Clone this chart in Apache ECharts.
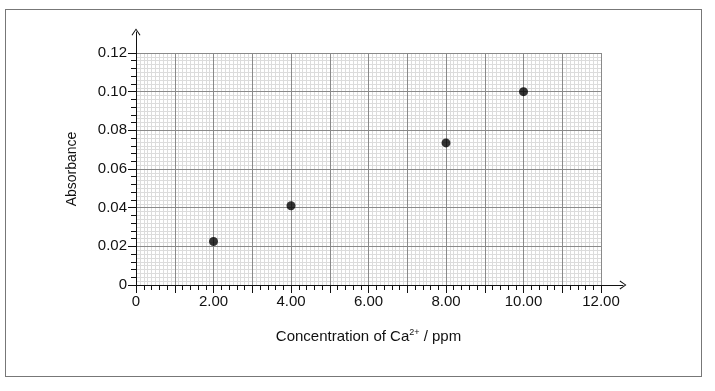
<!DOCTYPE html>
<html>
<head>
<meta charset="utf-8">
<script src="https://cdn.jsdelivr.net/npm/echarts@6/dist/echarts.min.js"></script>
<style>
html,body{margin:0;padding:0;background:#fff;}
#frame{position:absolute;left:5px;top:9px;width:697px;height:368px;border:1px solid #777;box-sizing:border-box;}
#chart{position:absolute;left:0;top:0;width:715px;height:391px;}
</style>
</head>
<body>
<div id="frame"></div>
<div id="chart"></div>
<script>
// Data
const concentrations = [2, 4, 8, 10];
const absorbances = [0.0225, 0.041, 0.0735, 0.100];
const xTickValues = [0, 2, 4, 6, 8, 10, 12];
const yTickValues = [0, 0.02, 0.04, 0.06, 0.08, 0.10, 0.12];
const xAxisTitle = 'Concentration of Ca';
const yAxisTitle = 'Absorbance';

const FONT = '"Liberation Sans", Arial, sans-serif';
const chart = echarts.init(document.getElementById('chart'), null, {renderer: 'canvas'});
const arrowPath = 'path://M0,7 L5,0 L10,7 L9,7.6 L5,1.6 L1,7.6 Z';

const G = {left: 136, right: 114, top: 53, bottom: 106};

function xLabel(v) {
  if (Math.abs(v) < 1e-9) return '0';
  const r = Math.round(v);
  return xTickValues.indexOf(r) >= 0 && Math.abs(v - r) < 1e-9 ? r.toFixed(2) : '';
}
function yLabel(v) {
  if (Math.abs(v) < 1e-12) return '0';
  return v.toFixed(2);
}

const option = {
  animation: false,
  backgroundColor: 'transparent',
  grid: [
    {left: G.left, right: G.right, top: G.top, bottom: G.bottom, containLabel: false},
    {left: G.left, right: 715 - 623, top: 32, bottom: G.bottom, containLabel: false}
  ],
  xAxis: [
    { // light minor grid
      type: 'value', gridIndex: 0, min: 0, max: 12, interval: 0.1, z: 0,
      axisLine: {show: false}, axisTick: {show: false}, axisLabel: {show: false},
      splitLine: {show: true, lineStyle: {color: '#dcdcdc', width: 1}}
    },
    { // main axis
      type: 'value', gridIndex: 0, min: 0, max: 12, interval: 1, z: 1,
      position: 'bottom',
      axisLine: {show: false, onZero: false},
      axisTick: {show: true, length: 8, lineStyle: {color: '#111', width: 1}},
      minorTick: {show: true, splitNumber: 5, length: 5, lineStyle: {color: '#111', width: 1}},
      axisLabel: {show: true, formatter: xLabel, color: '#111', fontFamily: FONT, fontSize: 15, margin: 9},
      splitLine: {show: true, lineStyle: {color: '#8a8a8a', width: 1}},
      name: '{t|' + xAxisTitle + '}{s|2+}{t| / ppm}',
      nameLocation: 'middle', nameGap: 43,
      nameTextStyle: {
        rich: {
          t: {fontFamily: FONT, fontSize: 15, color: '#111'},
          s: {fontFamily: FONT, fontSize: 9, color: '#111', verticalAlign: 'top', padding: [0, 0, 8, 0]}
        }
      }
    },
    { // axis line with arrow
      type: 'value', gridIndex: 1, min: 0, max: 1, z: 2,
      position: 'bottom',
      axisLine: {show: true, onZero: false, symbol: ['none', arrowPath], symbolSize: [9, 7], lineStyle: {color: '#111', width: 1}},
      axisTick: {show: false}, axisLabel: {show: false}, splitLine: {show: false}
    }
  ],
  yAxis: [
    {
      type: 'value', gridIndex: 0, min: 0, max: 0.12, interval: 0.002, z: 0,
      axisLine: {show: false}, axisTick: {show: false}, axisLabel: {show: false},
      splitLine: {show: true, lineStyle: {color: '#dcdcdc', width: 1}}
    },
    {
      type: 'value', gridIndex: 0, min: 0, max: 0.12, interval: 0.02, z: 1,
      position: 'left',
      axisLine: {show: false, onZero: false},
      axisTick: {show: true, length: 8, lineStyle: {color: '#111', width: 1}},
      minorTick: {show: true, splitNumber: 5, length: 5, lineStyle: {color: '#111', width: 1}},
      axisLabel: {show: true, formatter: yLabel, color: '#111', fontFamily: FONT, fontSize: 15, margin: 9},
      splitLine: {show: true, lineStyle: {color: '#8a8a8a', width: 1}},
      name: yAxisTitle, nameLocation: 'middle', nameGap: 57, nameRotate: 90,
      nameTextStyle: {fontFamily: FONT, fontSize: 14, color: '#111'}
    },
    {
      type: 'value', gridIndex: 1, min: 0, max: 1, z: 2,
      position: 'left',
      axisLine: {show: true, onZero: false, symbol: ['none', arrowPath], symbolSize: [9, 7], lineStyle: {color: '#111', width: 1}},
      axisTick: {show: false}, axisLabel: {show: false}, splitLine: {show: false}
    }
  ],
  series: [{
    type: 'scatter',
    xAxisIndex: 1, yAxisIndex: 1,
    data: concentrations.map((c, i) => [c, absorbances[i]]),
    symbol: 'circle', symbolSize: 9,
    itemStyle: {color: '#000'},
    z: 5
  }]
};
chart.setOption(option);
</script>
</body>
</html>
